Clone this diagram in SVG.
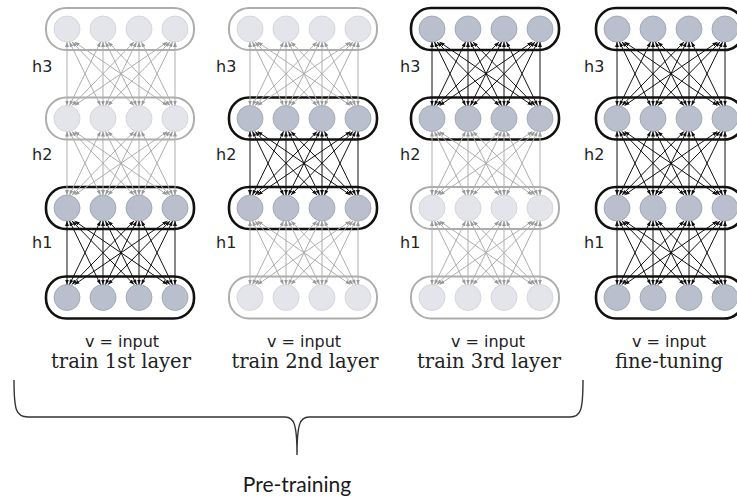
<svg xmlns="http://www.w3.org/2000/svg" width="737" height="498" viewBox="0 0 737 498">
<style>
.bg{fill:#ffffff}
.ra{fill:none;stroke:#111;stroke-width:2.6}
.ri{fill:none;stroke:#adadad;stroke-width:2}
.na{fill:#b9bfcd;stroke:#9aa0ad;stroke-width:0.8}
.ni{fill:#e3e5ea;stroke:#cfd1d5;stroke-width:0.8}
.hl{font-family:"DejaVu Sans",sans-serif;font-size:16px;fill:#222}
.vl{font-family:"DejaVu Sans",sans-serif;font-size:16px;fill:#222;text-anchor:middle}
.tl{font-family:"DejaVu Serif",serif;font-size:19.5px;fill:#222;text-anchor:middle}
.pl{font-family:"Lato","Liberation Sans",sans-serif;font-size:21px;fill:#1a1a1a;text-anchor:middle}
.brace{fill:none;stroke:#333;stroke-width:1.4}
</style>
<defs>
<marker id="mA" markerUnits="userSpaceOnUse" markerWidth="5" markerHeight="4" viewBox="0 0 10 8" refX="10" refY="4" orient="auto-start-reverse"><path d="M0,0 L10,4 L0,8 z" fill="#111"/></marker>
<marker id="mI" markerUnits="userSpaceOnUse" markerWidth="5" markerHeight="4" viewBox="0 0 10 8" refX="10" refY="4" orient="auto-start-reverse"><path d="M0,0 L10,4 L0,8 z" fill="#999"/></marker>
<g id="gapA" stroke="#111" stroke-width="1" marker-start="url(#mA)" marker-end="url(#mA)">
<line x1="0" y1="13" x2="0" y2="76.5"/><line x1="2.5" y1="13" x2="33.5" y2="76.5"/><line x1="5" y1="13" x2="67" y2="76.5"/><line x1="7.6" y1="13" x2="100.4" y2="76.5"/>
<line x1="33.5" y1="13" x2="2.5" y2="76.5"/><line x1="36" y1="13" x2="36" y2="76.5"/><line x1="38.5" y1="13" x2="69.5" y2="76.5"/><line x1="41" y1="13" x2="103" y2="76.5"/>
<line x1="67" y1="13" x2="5" y2="76.5"/><line x1="69.5" y1="13" x2="38.5" y2="76.5"/><line x1="72" y1="13" x2="72" y2="76.5"/><line x1="74.5" y1="13" x2="105.5" y2="76.5"/>
<line x1="100.4" y1="13" x2="7.6" y2="76.5"/><line x1="103" y1="13" x2="41" y2="76.5"/><line x1="105.5" y1="13" x2="74.5" y2="76.5"/><line x1="108" y1="13" x2="108" y2="76.5"/>
</g>
<g id="gapI" stroke="#aeaeae" stroke-width="1" marker-start="url(#mI)" marker-end="url(#mI)">
<line x1="0" y1="13" x2="0" y2="76.5"/><line x1="2.5" y1="13" x2="33.5" y2="76.5"/><line x1="5" y1="13" x2="67" y2="76.5"/><line x1="7.6" y1="13" x2="100.4" y2="76.5"/>
<line x1="33.5" y1="13" x2="2.5" y2="76.5"/><line x1="36" y1="13" x2="36" y2="76.5"/><line x1="38.5" y1="13" x2="69.5" y2="76.5"/><line x1="41" y1="13" x2="103" y2="76.5"/>
<line x1="67" y1="13" x2="5" y2="76.5"/><line x1="69.5" y1="13" x2="38.5" y2="76.5"/><line x1="72" y1="13" x2="72" y2="76.5"/><line x1="74.5" y1="13" x2="105.5" y2="76.5"/>
<line x1="100.4" y1="13" x2="7.6" y2="76.5"/><line x1="103" y1="13" x2="41" y2="76.5"/><line x1="105.5" y1="13" x2="74.5" y2="76.5"/><line x1="108" y1="13" x2="108" y2="76.5"/>
</g>
<g id="layA"><rect class="ra" x="-21" y="-21" width="148" height="42" rx="20"/><circle class="na" cx="0" cy="0" r="13"/><circle class="na" cx="36" cy="0" r="13"/><circle class="na" cx="72" cy="0" r="13"/><circle class="na" cx="108" cy="0" r="13"/></g>
<g id="layI"><rect class="ri" x="-21" y="-21" width="148" height="42" rx="20"/><circle class="ni" cx="0" cy="0" r="13"/><circle class="ni" cx="36" cy="0" r="13"/><circle class="ni" cx="72" cy="0" r="13"/><circle class="ni" cx="108" cy="0" r="13"/></g>
</defs>
<rect class="bg" x="0" y="0" width="737" height="498"/>

<!-- Panel 1: train 1st layer -->
<g id="p1-v"><use href="#layA" x="67" y="297.5"/></g>
<g id="p1-h1"><use href="#layA" x="67" y="208"/></g>
<g id="p1-h2"><use href="#layI" x="67" y="118.5"/></g>
<g id="p1-h3"><use href="#layI" x="67" y="29"/></g>
<!-- Panel 2 -->
<g id="p2-v"><use href="#layI" x="250" y="297.5"/></g>
<g id="p2-h1"><use href="#layA" x="250" y="208"/></g>
<g id="p2-h2"><use href="#layA" x="250" y="118.5"/></g>
<g id="p2-h3"><use href="#layI" x="250" y="29"/></g>
<!-- Panel 3 -->
<g id="p3-v"><use href="#layI" x="432" y="297.5"/></g>
<g id="p3-h1"><use href="#layI" x="432" y="208"/></g>
<g id="p3-h2"><use href="#layA" x="432" y="118.5"/></g>
<g id="p3-h3"><use href="#layA" x="432" y="29"/></g>
<!-- Panel 4 -->
<g id="p4-v"><use href="#layA" x="617" y="297.5"/></g>
<g id="p4-h1"><use href="#layA" x="617" y="208"/></g>
<g id="p4-h2"><use href="#layA" x="617" y="118.5"/></g>
<g id="p4-h3"><use href="#layA" x="617" y="29"/></g>

<g id="connectors">
<use href="#gapI" x="67" y="29"/><use href="#gapI" x="67" y="118.5"/><use href="#gapA" x="67" y="208"/>
<use href="#gapI" x="250" y="29"/><use href="#gapA" x="250" y="118.5"/><use href="#gapI" x="250" y="208"/>
<use href="#gapA" x="432" y="29"/><use href="#gapI" x="432" y="118.5"/><use href="#gapI" x="432" y="208"/>
<use href="#gapA" x="617" y="29"/><use href="#gapA" x="617" y="118.5"/><use href="#gapA" x="617" y="208"/>
</g>

<g id="labels">
<text class="hl" x="32" y="72">h3</text><text class="hl" x="32" y="160">h2</text><text class="hl" x="32" y="248">h1</text>
<text class="hl" x="216" y="72">h3</text><text class="hl" x="216" y="160">h2</text><text class="hl" x="216" y="248">h1</text>
<text class="hl" x="400" y="72">h3</text><text class="hl" x="400" y="160">h2</text><text class="hl" x="400" y="248">h1</text>
<text class="hl" x="584" y="72">h3</text><text class="hl" x="584" y="160">h2</text><text class="hl" x="584" y="248">h1</text>
<text class="vl" x="122" y="347">v = input</text><text class="tl" x="121" y="368">train 1st layer</text>
<text class="vl" x="304" y="347">v = input</text><text class="tl" x="305" y="368">train 2nd layer</text>
<text class="vl" x="488" y="347">v = input</text><text class="tl" x="489" y="368">train 3rd layer</text>
<text class="vl" x="669" y="347">v = input</text><text class="tl" x="669" y="368">fine-tuning</text>
</g>

<g id="brace">
<path class="brace" d="M14,380 C14,410 16,417 28,417 L285,417 C294,417 297,424 297,455 C297,424 300,417 309,417 L570,417 C581,417 583,410 583,380"/>
<text class="pl" x="297" y="492">Pre-training</text>
</g>
</svg>
